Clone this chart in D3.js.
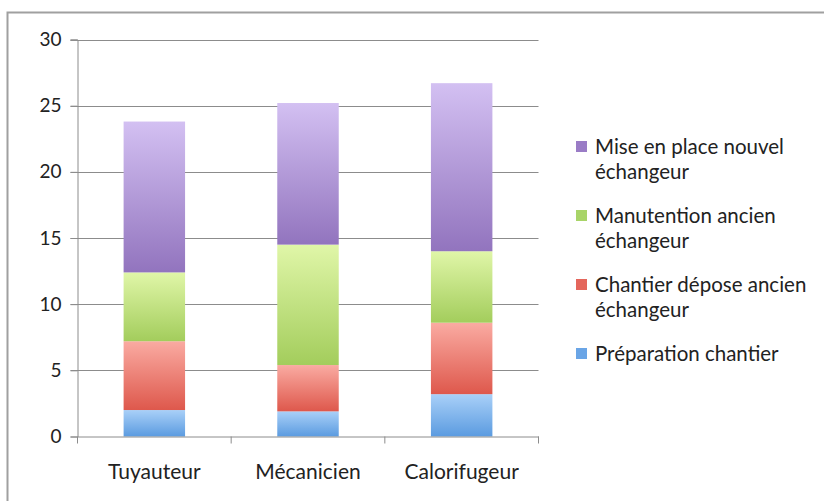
<!DOCTYPE html>
<html>
<head>
<meta charset="utf-8">
<script src="https://cdn.jsdelivr.net/npm/d3@7"></script>
<style>
  html, body { margin: 0; padding: 0; background: #fff; }
  svg { display: block; font-family: Lato, "Open Sans", sans-serif; }
</style>
</head>
<body>
<svg id="chart" width="824" height="501"></svg>
<script>
// Job categories along the x axis
const categories = ["Tuyauteur", "Mécanicien", "Calorifugeur"];

// Stacked series, bottom to top
const seriesNames = [
  "Préparation chantier",
  "Chantier dépose ancien échangeur",
  "Manutention ancien échangeur",
  "Mise en place nouvel échangeur"
];
const preparation = [2.0, 1.9, 3.2];
const depose      = [5.2, 3.5, 5.4];
const manutention = [5.2, 9.1, 5.4];
const miseEnPlace = [11.4, 10.7, 12.7];

const yTicks = [0, 5, 10, 15, 20, 25, 30];

// Legend lines (top to bottom), each entry wrapped over lines
const legendLabels = [
  ["Mise en place nouvel", "échangeur"],
  ["Manutention ancien", "échangeur"],
  ["Chantier dépose ancien", "échangeur"],
  ["Préparation chantier"]
];

const seriesValues = [preparation, depose, manutention, miseEnPlace];
const gradientStops = [
  ["#a9d0f8", "#5b9be0"],
  ["#faaba2", "#de584c"],
  ["#e0f6a8", "#a3cd5c"],
  ["#d3c0f2", "#9274be"]
];
const legendColors = ["#9a7cc6", "#a8d468", "#e4665c", "#6aa5e6"];

const FONT = "Lato, 'Open Sans', sans-serif";
const svg = d3.select("#chart");

// Outer frame
svg.append("rect")
  .attr("x", 7.5).attr("y", 12.5)
  .attr("width", 830).attr("height", 500)
  .attr("fill", "none").attr("stroke", "#a0a0a0").attr("stroke-width", 2);

const plotLeft = 77.5, plotRight = 538.5, plotTop = 39.5, plotBottom = 436.5;

const x = d3.scaleBand().domain(categories).range([plotLeft, plotRight]);
const y = d3.scaleLinear().domain([0, 30]).range([plotBottom, plotTop]);

// Gradient definitions
const defs = svg.append("defs");
gradientStops.forEach((s, i) => {
  const g = defs.append("linearGradient")
    .attr("id", "grad" + i)
    .attr("x1", 0).attr("y1", 0).attr("x2", 0).attr("y2", 1);
  g.append("stop").attr("offset", "0%").attr("stop-color", s[0]);
  g.append("stop").attr("offset", "100%").attr("stop-color", s[1]);
});

// Horizontal gridlines
svg.append("g")
  .selectAll("line")
  .data(yTicks.filter(d => d > 0))
  .join("line")
  .attr("x1", plotLeft - 7).attr("x2", plotRight)
  .attr("y1", d => Math.round(y(d)) + 0.5).attr("y2", d => Math.round(y(d)) + 0.5)
  .attr("stroke", "#8c8c8c").attr("stroke-width", 1);

// Y axis
const yAxis = d3.axisLeft(y).tickValues(yTicks).tickSize(7).tickPadding(9);
const gy = svg.append("g").attr("transform", `translate(${plotLeft},0)`).call(yAxis);
gy.select(".domain").attr("stroke", "#8c8c8c");
gy.selectAll(".tick line").attr("stroke", "#8c8c8c");
gy.selectAll(".tick text")
  .attr("fill", "#222").style("font-size", "19px")
  .style("font-family", FONT);

// Stacked bars
const table = categories.map((c, i) => {
  const row = { cat: c };
  seriesValues.forEach((v, k) => row["s" + k] = v[i]);
  return row;
});
const stack = d3.stack().keys(seriesValues.map((_, k) => "s" + k));
const layers = stack(table);
const barW = x.bandwidth() * 0.4;

svg.append("g")
  .selectAll("g")
  .data(layers)
  .join("g")
  .attr("fill", (d, i) => `url(#grad${i})`)
  .selectAll("rect")
  .data(d => d)
  .join("rect")
  .attr("x", d => x(d.data.cat) + x.bandwidth() / 2 - barW / 2)
  .attr("width", barW)
  .attr("y", d => y(d[1]))
  .attr("height", d => y(d[0]) - y(d[1]));

// X axis
const xAxis = d3.axisBottom(x).tickSize(0).tickPadding(28);
const gx = svg.append("g").attr("transform", `translate(0,${plotBottom})`).call(xAxis);
gx.select(".domain").attr("stroke", "#8c8c8c");
gx.selectAll(".tick text")
  .attr("fill", "#222").style("font-size", "21px")
  .style("font-family", FONT);

// Category separator ticks
svg.append("g")
  .selectAll("line")
  .data(categories)
  .join("line")
  .attr("x1", d => x(d) + x.bandwidth()).attr("x2", d => x(d) + x.bandwidth())
  .attr("y1", plotBottom).attr("y2", plotBottom + 7)
  .attr("stroke", "#8c8c8c");
svg.append("line")
  .attr("x1", plotLeft).attr("x2", plotLeft)
  .attr("y1", plotBottom).attr("y2", plotBottom + 7)
  .attr("stroke", "#8c8c8c");

// Legend
const legendTops = [147, 216, 285, 354];
const legend = svg.append("g");
legendLabels.forEach((lines, i) => {
  const cy = legendTops[i];
  legend.append("rect")
    .attr("x", 576).attr("y", cy - 6)
    .attr("width", 11).attr("height", 11)
    .attr("fill", legendColors[i]);
  const t = legend.append("text")
    .attr("x", 595).attr("y", cy + 7)
    .attr("fill", "#222")
    .style("font-size", "20.5px")
    .style("font-family", FONT);
  lines.forEach((ln, j) => {
    t.append("tspan").attr("x", 595).attr("dy", j === 0 ? 0 : 25).text(ln);
  });
});
</script>
</body>
</html>
